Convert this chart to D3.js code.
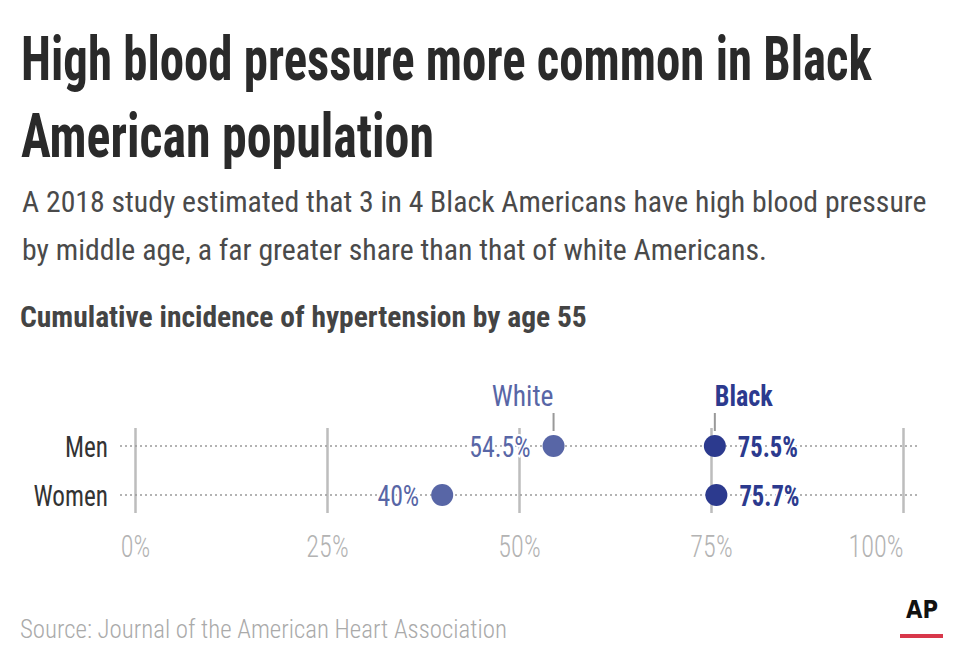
<!DOCTYPE html>
<html>
<head>
<meta charset="utf-8">
<script src="https://cdn.jsdelivr.net/npm/d3@7"></script>
<style>
  html, body { margin: 0; padding: 0; background: #fff; }
  svg { display: block; }
  text { font-family: "Roboto Condensed", "Roboto", "Liberation Sans Narrow", sans-serif; }
</style>
</head>
<body>
<svg id="chart" width="960" height="668"></svg>
<script>
// ---- data ----
const categories = ["Men", "Women"];
const whiteValues = [54.5, 40];
const blackValues = [75.5, 75.7];
const seriesNames = ["White", "Black"];
const tickValues = [0, 25, 50, 75, 100];
const tickLabels = ["0%", "25%", "50%", "75%", "100%"];
const valueLabelsWhite = ["54.5%", "40%"];
const valueLabelsBlack = ["75.5%", "75.7%"];

const titleLines = ["High blood pressure more common in Black", "American population"];
const subtitleLines = [
  "A 2018 study estimated that 3 in 4 Black Americans have high blood pressure",
  "by middle age, a far greater share than that of white Americans."
];
const chartHeader = "Cumulative incidence of hypertension by age 55";
const sourceText = "Source: Journal of the American Heart Association";

// ---- styles ----
const colWhite = "#5866a6";
const colBlack = "#2c3a8e";
const gridCol = "#bdbdbd";

const svg = d3.select("#chart");

// scale font-size so the natural width matches the target width
function fitSize(sel, w) {
  sel.each(function () {
    const s = d3.select(this);
    const fs = parseFloat(s.attr("font-size"));
    const len = this.getComputedTextLength();
    if (len > 0) s.attr("font-size", fs * w / len);
  });
}
// squeeze horizontally with a transform so the text spans w pixels from (x0, y0)
function squeezeTo(sel, x0, y0, w) {
  sel.each(function () {
    const len = this.getComputedTextLength();
    d3.select(this).attr("x", 0).attr("y", 0)
      .attr("transform", `translate(${x0},${y0}) scale(${w / len},1)`);
  });
}
function condense(sel, k) {
  sel.each(function () {
    const w = this.getComputedTextLength();
    d3.select(this).attr("textLength", w * k).attr("lengthAdjust", "spacingAndGlyphs");
  });
}

// ---- headings ----
const titleW = [851, 413];
svg.selectAll("text.title").data(titleLines).join("text")
  .attr("class", "title")
  .attr("font-size", 62).attr("font-weight", 700).attr("fill", "#2a2a2a")
  .text(d => d)
  .each(function (d, i) { squeezeTo(d3.select(this), 21, 80 + i * 77, titleW[i]); });

const subW = [905, 745];
svg.selectAll("text.sub").data(subtitleLines).join("text")
  .attr("class", "sub")
  .attr("x", 22).attr("y", (d, i) => 212 + i * 48)
  .attr("font-size", 33).attr("font-weight", 400).attr("fill", "#4a4a4a")
  .text(d => d)
  .each(function (d, i) { fitSize(d3.select(this), subW[i]); });

svg.append("text")
  .attr("font-size", 30).attr("font-weight", 700).attr("fill", "#444")
  .text(chartHeader)
  .call(squeezeTo, 20, 327, 567);

// ---- scales ----
const x = d3.scaleLinear().domain([0, 100]).range([135, 903]);
const y = d3.scalePoint().domain(categories).range([446, 495]);

// ---- gridlines + axis ----
const axisY = 513;
const axis = d3.axisBottom(x)
  .tickValues(tickValues)
  .tickFormat((d, i) => tickLabels[i])
  .tickSizeInner(-(axisY - 428))
  .tickSizeOuter(0);

const gAxis = svg.append("g").attr("transform", `translate(0,${axisY})`).call(axis);
gAxis.select(".domain").remove();
gAxis.selectAll(".tick line").attr("stroke", gridCol).attr("stroke-width", 2.5);
gAxis.selectAll(".tick text")
  .attr("y", 44).attr("dy", 0)
  .attr("font-size", 32).attr("font-weight", 300).attr("fill", "#b3b3b3")
  .style("font-family", "'Roboto Condensed', Roboto, sans-serif")
  .attr("text-anchor", (d, i) => i === tickValues.length - 1 ? "end" : "middle")
  .call(condense, 0.82);

// ---- row dotted lines ----
svg.selectAll("line.row").data(categories).join("line")
  .attr("class", "row")
  .attr("x1", 120).attr("x2", 917)
  .attr("y1", d => y(d)).attr("y2", d => y(d))
  .attr("stroke", "#9a9a9a").attr("stroke-width", 1.6)
  .attr("stroke-dasharray", "2,3");

// ---- row labels ----
svg.selectAll("text.rowlab").data(categories).join("text")
  .attr("class", "rowlab")
  .attr("x", 108).attr("y", d => y(d) + 11)
  .attr("text-anchor", "end")
  .attr("font-size", 30).attr("fill", "#333")
  .text(d => d)
  .call(condense, 0.84);

// ---- dots ----
const r = 11;
svg.selectAll("circle.w").data(categories).join("circle")
  .attr("class", "w")
  .attr("cx", (d, i) => x(whiteValues[i])).attr("cy", d => y(d))
  .attr("r", r).attr("fill", colWhite);

svg.selectAll("circle.b").data(categories).join("circle")
  .attr("class", "b")
  .attr("cx", (d, i) => x(blackValues[i])).attr("cy", d => y(d))
  .attr("r", r).attr("fill", colBlack);

// ---- value labels ----
svg.selectAll("text.wv").data(categories).join("text")
  .attr("class", "wv")
  .attr("x", (d, i) => x(whiteValues[i]) - 23).attr("y", d => y(d) + 11)
  .attr("text-anchor", "end")
  .attr("font-size", 30).attr("font-weight", 400).attr("fill", colWhite)
  .attr("stroke", "#fff").attr("stroke-width", 4).attr("paint-order", "stroke")
  .text((d, i) => valueLabelsWhite[i])
  .call(condense, 0.86);

svg.selectAll("text.bv").data(categories).join("text")
  .attr("class", "bv")
  .attr("x", (d, i) => x(blackValues[i]) + 23).attr("y", d => y(d) + 11)
  .attr("text-anchor", "start")
  .attr("font-size", 30).attr("font-weight", 700).attr("fill", colBlack)
  .attr("stroke", "#fff").attr("stroke-width", 4).attr("paint-order", "stroke")
  .text((d, i) => valueLabelsBlack[i])
  .call(condense, 0.82);

// ---- series labels ----
const wx = x(whiteValues[0]);
const bx = x(blackValues[0]);
svg.append("line").attr("x1", wx).attr("x2", wx).attr("y1", 413).attr("y2", 431)
  .attr("stroke", "#999").attr("stroke-width", 2);
svg.append("line").attr("x1", bx).attr("x2", bx).attr("y1", 413).attr("y2", 431)
  .attr("stroke", "#999").attr("stroke-width", 2);

svg.append("text").attr("x", wx).attr("y", 406)
  .attr("text-anchor", "end").attr("font-size", 30).attr("font-weight", 400).attr("fill", colWhite)
  .text(seriesNames[0]).call(condense, 0.92);
svg.append("text").attr("x", bx).attr("y", 406)
  .attr("text-anchor", "start").attr("font-size", 30).attr("font-weight", 700).attr("fill", colBlack)
  .text(seriesNames[1]).call(condense, 0.87);

// ---- source ----
svg.append("text").attr("x", 20).attr("y", 638)
  .attr("font-size", 29).attr("font-weight", 300).attr("fill", "#aaaaaa")
  .text(sourceText).call(fitSize, 487);

// ---- AP logo ----
svg.append("text").attr("x", 922).attr("y", 618)
  .attr("text-anchor", "middle")
  .attr("font-size", 25).attr("font-weight", 900).attr("fill", "#111")
  .style("font-family", "'DejaVu Sans', sans-serif")
  .text("AP").call(condense, 0.85);
svg.append("rect").attr("x", 900).attr("y", 634).attr("width", 43).attr("height", 4)
  .attr("fill", "#d8374a");
</script>
</body>
</html>
